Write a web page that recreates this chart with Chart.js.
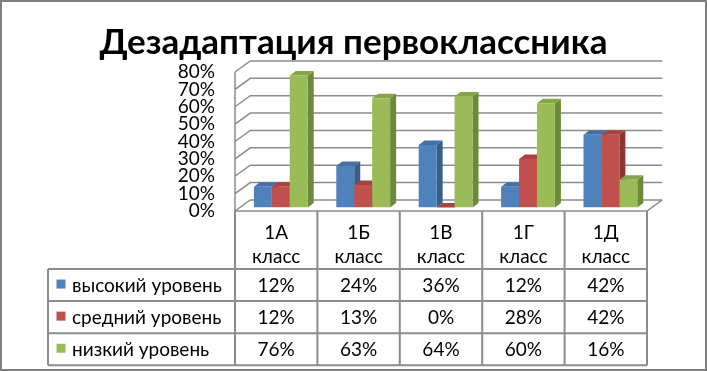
<!DOCTYPE html>
<html>
<head>
<meta charset="utf-8">
<script src="https://cdn.jsdelivr.net/npm/chart.js@4.4.1/dist/chart.umd.min.js"></script>
<style>
  html, body { margin: 0; padding: 0; background: #fff; }
  canvas { display: block; }
</style>
</head>
<body>
<canvas id="chart" width="707" height="371"></canvas>
<script>
const chartTitle = 'Дезадаптация первоклассника';
const categories = [['1А', 'класс'], ['1Б', 'класс'], ['1В', 'класс'], ['1Г', 'класс'], ['1Д', 'класс']];
const seriesNames = ['высокий уровень', 'средний уровень', 'низкий уровень'];
const highLevel = [12, 24, 36, 12, 42];
const middleLevel = [12, 13, 0, 28, 42];
const lowLevel = [76, 63, 64, 60, 16];
const yTicks = [0, 10, 20, 30, 40, 50, 60, 70, 80];

const frontColors = ['#4F81BD', '#C0504D', '#9BBB59'];
const topColors = ['#4470A6', '#A9423F', '#86A44A'];
const sideColors = ['#385D8A', '#8A3532', '#6C8A3A'];

const FONT = 'Lato, "Open Sans", sans-serif';
const LINE = '#8c8c8c';

// oblique projection: bar plane = chartArea, front and back planes are shifted
const FRONT = { x: -4.6, y: 3.4 };
const BACK = { x: 10.7, y: -7.7 };
const BAR_DEPTH = { x: 6, y: -4.5 };

const seriesData = [highLevel, middleLevel, lowLevel];

const frame = {
  id: 'frame',
  beforeDraw(chart) {
    const ctx = chart.ctx;
    ctx.save();
    ctx.fillStyle = '#808080';
    ctx.fillRect(0, 0, chart.width, chart.height);
    ctx.fillStyle = '#fff';
    ctx.fillRect(2, 2, chart.width - 4, chart.height - 4);
    ctx.restore();
  }
};

const box3d = {
  id: 'box3d',
  beforeDatasetsDraw(chart) {
    const ctx = chart.ctx;
    const y = chart.scales.y;
    const left = chart.chartArea.left, right = chart.chartArea.right;
    ctx.save();
    ctx.strokeStyle = LINE;
    ctx.lineWidth = 1.5;
    ctx.beginPath();
    yTicks.forEach(v => {
      const p = y.getPixelForValue(v);
      ctx.moveTo(left + FRONT.x, p + FRONT.y);
      ctx.lineTo(left + BACK.x, p + BACK.y);
      ctx.lineTo(right + BACK.x, p + BACK.y);
    });
    // left wall edge and floor
    const top = y.getPixelForValue(yTicks[yTicks.length - 1]);
    const base = y.getPixelForValue(0);
    ctx.moveTo(left + FRONT.x, top + FRONT.y);
    ctx.lineTo(left + FRONT.x, base + FRONT.y);
    ctx.lineTo(right + FRONT.x, base + FRONT.y);
    ctx.lineTo(right + BACK.x, base + BACK.y);
    ctx.stroke();

    seriesData.forEach((_, d) => {
      chart.getDatasetMeta(d).data.forEach(bar => {
        const l = bar.x - bar.width / 2, r = bar.x + bar.width / 2;
        const t = bar.y, b = bar.base;
        ctx.fillStyle = sideColors[d];
        ctx.beginPath();
        ctx.moveTo(r, t);
        ctx.lineTo(r + BAR_DEPTH.x, t + BAR_DEPTH.y);
        ctx.lineTo(r + BAR_DEPTH.x, b + BAR_DEPTH.y);
        ctx.lineTo(r, b);
        ctx.closePath();
        ctx.fill();
        ctx.fillStyle = topColors[d];
        ctx.beginPath();
        ctx.moveTo(l, t);
        ctx.lineTo(l + BAR_DEPTH.x, t + BAR_DEPTH.y);
        ctx.lineTo(r + BAR_DEPTH.x, t + BAR_DEPTH.y);
        ctx.lineTo(r, t);
        ctx.closePath();
        ctx.fill();
      });
    });
    ctx.restore();
  },
  afterDraw(chart) {
    // data table under the plot
    const ctx = chart.ctx;
    const x = chart.scales.x, y = chart.scales.y;
    const colW = (chart.chartArea.right - chart.chartArea.left) / categories.length;
    const x0 = chart.chartArea.left + FRONT.x;
    const x1 = chart.chartArea.right + FRONT.x;
    const headTop = y.getPixelForValue(0) + FRONT.y;
    const tableLeft = 48;
    const rowTop = 269, rowH = 32.1;
    const tableBottom = rowTop + rowH * seriesNames.length;

    ctx.save();
    ctx.strokeStyle = LINE;
    ctx.lineWidth = 2;
    ctx.beginPath();
    for (let i = 0; i <= categories.length; i++) {
      ctx.moveTo(x0 + i * colW, headTop);
      ctx.lineTo(x0 + i * colW, tableBottom);
    }
    ctx.moveTo(tableLeft, rowTop);
    ctx.lineTo(tableLeft, tableBottom);
    for (let r = 0; r <= seriesNames.length; r++) {
      ctx.moveTo(tableLeft, rowTop + r * rowH);
      ctx.lineTo(x1, rowTop + r * rowH);
    }
    ctx.stroke();

    ctx.fillStyle = '#000';
    ctx.font = '19px ' + FONT;
    ctx.textAlign = 'center';
    ctx.textBaseline = 'alphabetic';
    categories.forEach((lines, i) => {
      const cx = x.getPixelForValue(i) + FRONT.x;
      lines.forEach((s, k) => ctx.fillText(s, cx, 239 + k * 24));
    });

    seriesNames.forEach((name, r) => {
      const cy = rowTop + r * rowH + rowH / 2;
      ctx.fillStyle = frontColors[r];
      ctx.fillRect(56.5, cy - 5.5, 9, 9);
      ctx.fillStyle = '#000';
      ctx.textAlign = 'left';
      ctx.fillText(name, 72, cy + 6.5);
      ctx.textAlign = 'center';
      seriesData[r].forEach((v, i) => {
        ctx.fillText(v + '%', x.getPixelForValue(i) + FRONT.x, cy + 6.5);
      });
    });
    ctx.restore();
  }
};

new Chart(document.getElementById('chart'), {
  type: 'bar',
  data: {
    labels: categories,
    datasets: seriesNames.map((name, d) => ({
      label: name,
      data: seriesData[d],
      backgroundColor: frontColors[d],
      borderWidth: 0
    }))
  },
  options: {
    responsive: false,
    animation: false,
    layout: { padding: { left: 55.4, right: 55.4, top: 0, bottom: 163.4 } },
    datasets: { bar: { categoryPercentage: 0.653, barPercentage: 1 } },
    plugins: {
      legend: { display: false },
      tooltip: { enabled: false },
      title: {
        display: true,
        text: chartTitle,
        color: '#000',
        font: { family: FONT, size: 35, weight: 'bold' },
        padding: { top: 22, bottom: 4.6 }
      }
    },
    scales: {
      x: { display: false },
      y: {
        min: 0,
        max: 80,
        afterFit(scale) { scale.width = 184.2; },
        grid: { display: false, drawTicks: false },
        border: { display: false },
        ticks: {
          stepSize: 10,
          autoSkip: false,
          padding: 24.6,
          labelOffset: 3.4,
          color: '#000',
          font: { family: FONT, size: 19 },
          callback: v => v + '%'
        }
      }
    }
  },
  plugins: [frame, box3d]
});
</script>
</body>
</html>
